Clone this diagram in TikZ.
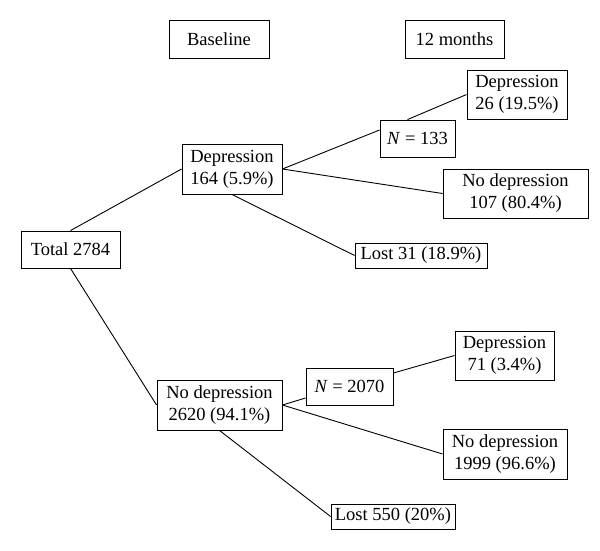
\documentclass[tikz,border=0pt]{standalone}
\usepackage{fontspec}
\setmainfont{Liberation Serif}
\begin{document}
\begin{tikzpicture}[x=1pt,y=-1pt,
  box/.style={draw,line width=0.9pt,inner sep=0pt,align=center,
    font=\fontsize{18.5}{22}\selectfont},
  conn/.style={line width=0.9pt}]
\useasboundingbox (0,0) rectangle (600,550);
\fill[white] (0,0) rectangle (600,550);
\node[box,minimum width=100pt,minimum height=38pt] (baseline) at (219,39) {Baseline};
\node[box,minimum width=99pt,minimum height=38pt] (months) at (454.5,39) {12 months};
\node[box,minimum width=99pt,minimum height=37pt] (total) at (70.5,249.5) {Total 2784};
\node[box,minimum width=100pt,minimum height=50pt] (dep164) at (232,169) {Depression\\164 (5.9\%)};
\node[box,minimum width=75pt,minimum height=37pt] (n133) at (417.5,138.5) {\textit{N} = 133};
\node[box,minimum width=100pt,minimum height=49pt] (dep26) at (517,94.5) {Depression\\26 (19.5\%)};
\node[box,minimum width=145pt,minimum height=49pt] (nod107) at (515.5,193.5) {No depression\\107 (80.4\%)};
\node[box,minimum width=132pt,minimum height=25pt] (lost31) at (421,255.5) {Lost 31 (18.9\%)};
\node[box,minimum width=125pt,minimum height=50pt] (nod2620) at (219.5,405) {No depression\\2620 (94.1\%)};
\node[box,minimum width=87pt,minimum height=37pt] (n2070) at (349.5,386.5) {\textit{N} = 2070};
\node[box,minimum width=99pt,minimum height=49pt] (dep71) at (504.5,355.5) {Depression\\71 (3.4\%)};
\node[box,minimum width=124pt,minimum height=50pt] (nod1999) at (505,454) {No depression\\1999 (96.6\%)};
\node[box,minimum width=124pt,minimum height=25pt] (lost550) at (393,516.5) {Lost 550 (20\%)};
\draw[conn] (total.north) -- (dep164.west);
\draw[conn] (total.south) -- (nod2620.west);
\draw[conn] (dep164.east) -- ([yshift=8.5pt]n133.west);
\draw[conn] ([xshift=-10pt]n133.north) -- (dep26.west);
\draw[conn] (dep164.east) -- (nod107.west);
\draw[conn] (dep164.south) -- (lost31.west);
\draw[conn] (nod2620.east) -- ([yshift=-11.5pt]n2070.west);
\draw[conn] ([yshift=13.5pt]n2070.east) -- (dep71.west);
\draw[conn] (nod2620.east) -- (nod1999.west);
\draw[conn] (nod2620.south) -- (lost550.west);
\end{tikzpicture}
\end{document}
